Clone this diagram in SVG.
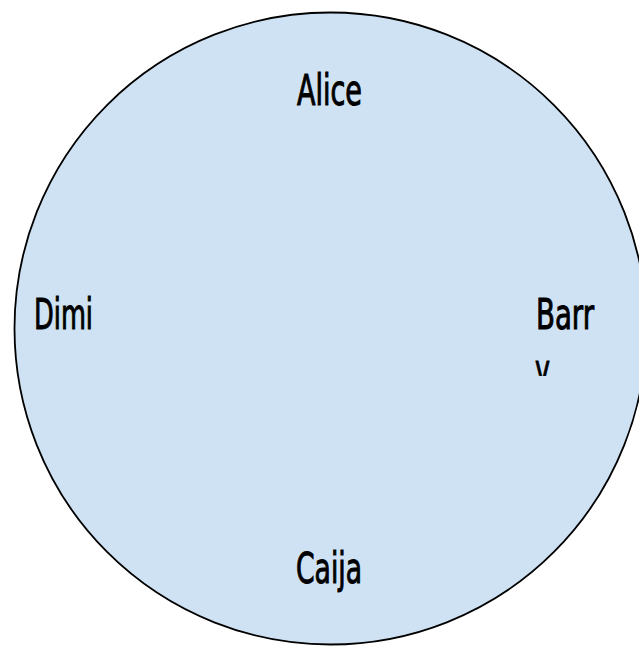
<svg xmlns="http://www.w3.org/2000/svg" width="639" height="646" viewBox="0 0 639 646">
<style>
.lbl{font-family:"Liberation Sans Narrow","DejaVu Sans Condensed","Liberation Sans",sans-serif;font-size:42px;font-weight:normal;fill:#000;stroke:#000;stroke-width:1}
</style>
<defs>
<clipPath id="clipB"><rect x="520" y="290" width="119" height="86"/></clipPath>
</defs>
<rect width="639" height="646" fill="#fff"/>
<g id="circle">
<circle cx="330.5" cy="328.5" r="316" fill="#cfe2f3" stroke="#000" stroke-width="1.8"/>
</g>
<g id="connectors"></g>
<g id="alice"><text class="lbl" x="297" y="105" textLength="65" lengthAdjust="spacingAndGlyphs">Alice</text></g>
<g id="barry" clip-path="url(#clipB)">
<text class="lbl" x="536" y="329" textLength="58" lengthAdjust="spacingAndGlyphs">Barr</text>
<text class="lbl" x="535" y="384" textLength="15" lengthAdjust="spacingAndGlyphs">y</text>
</g>
<g id="dimi"><text class="lbl" x="34" y="329" textLength="59" lengthAdjust="spacingAndGlyphs">Dimi</text></g>
<g id="caija"><text class="lbl" x="296" y="583" textLength="66" lengthAdjust="spacingAndGlyphs">Caija</text></g>
</svg>
